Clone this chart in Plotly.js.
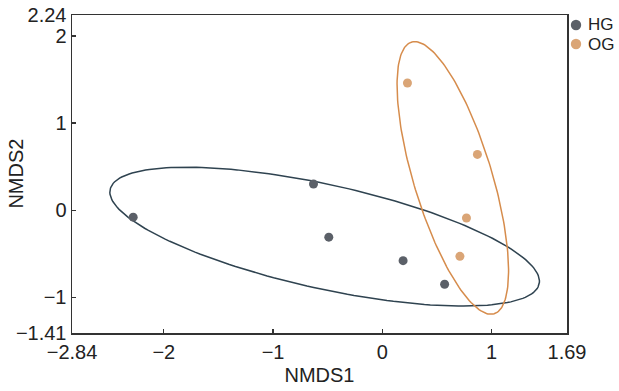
<!DOCTYPE html>
<html>
<head>
<meta charset="utf-8">
<script src="https://cdn.plot.ly/plotly-3.0.1.min.js"></script>
<style>html,body{margin:0;padding:0;background:#fff;}#chart{width:619px;height:391px;}</style>
</head>
<body>
<div id="chart"></div>
<script>
// Data
const groups = ["HG", "OG"];
const hgX = [-2.28, -0.63, -0.49, 0.19, 0.57];
const hgY = [-0.08, 0.30, -0.31, -0.58, -0.85];
const ogX = [0.23, 0.87, 0.77, 0.71];
const ogY = [1.46, 0.64, -0.09, -0.53];
const xTicks = [-2.84, -2, -1, 0, 1, 1.69];
const xTickText = ["\u22122.84", "\u22122", "\u22121", "0", "1", "1.69"];
const yTicks = [-1.41, -1, 0, 1, 2, 2.24];
const yTickText = ["\u22121.41", "\u22121", "0", "1", "2", "2.24"];
const ellipseLevel = 0.8;

const pointColors = ["#5b6068", "#daa576"];
const lineColors = ["#2f4350", "#d68c4c"];

// Confidence ellipse from the sample covariance of each group
function ellipse(xs, ys, level) {
  const n = xs.length;
  const mx = xs.reduce((a, b) => a + b, 0) / n;
  const my = ys.reduce((a, b) => a + b, 0) / n;
  let sxx = 0, syy = 0, sxy = 0;
  for (let i = 0; i < n; i++) {
    sxx += (xs[i] - mx) ** 2;
    syy += (ys[i] - my) ** 2;
    sxy += (xs[i] - mx) * (ys[i] - my);
  }
  sxx /= (n - 1); syy /= (n - 1); sxy /= (n - 1);
  const tr = sxx + syy, det = sxx * syy - sxy * sxy;
  const d = Math.sqrt(tr * tr / 4 - det);
  const l1 = tr / 2 + d, l2 = tr / 2 - d;
  const theta = Math.atan2(l1 - sxx, sxy);
  const k = Math.sqrt(-2 * Math.log(1 - level));
  const a = k * Math.sqrt(l1), b = k * Math.sqrt(l2);
  const ex = [], ey = [];
  for (let i = 0; i <= 200; i++) {
    const t = 2 * Math.PI * i / 200;
    const u = a * Math.cos(t), v = b * Math.sin(t);
    ex.push(mx + u * Math.cos(theta) - v * Math.sin(theta));
    ey.push(my + u * Math.sin(theta) + v * Math.cos(theta));
  }
  return {x: ex, y: ey};
}

const e1 = ellipse(hgX, hgY, ellipseLevel);
const e2 = ellipse(ogX, ogY, ellipseLevel);

const FONT = "Liberation Sans, Arial, sans-serif";

const traces = [
  {x: e1.x, y: e1.y, mode: "lines", line: {color: lineColors[0], width: 1.5}, showlegend: false, hoverinfo: "skip"},
  {x: e2.x, y: e2.y, mode: "lines", line: {color: lineColors[1], width: 1.5}, showlegend: false, hoverinfo: "skip"},
  {x: hgX, y: hgY, name: groups[0], mode: "markers", type: "scatter", marker: {color: pointColors[0], size: 9}},
  {x: ogX, y: ogY, name: groups[1], mode: "markers", type: "scatter", marker: {color: pointColors[1], size: 9}}
];

const axisCommon = {
  showgrid: false, zeroline: false, showline: true, mirror: true,
  linecolor: "#333333", linewidth: 1.5,
  ticks: "inside", ticklen: 4, tickwidth: 1.2, tickcolor: "#333333",
  tickfont: {family: FONT, size: 20, color: "#222222"},
  tickmode: "array", automargin: false
};

// Legend drawn as paper-positioned circles and labels (compact spacing as in the reference)
const legendYs = [0.9686, 0.9088];
const legendShapes = groups.map((g, i) => ({
  type: "circle", xref: "paper", yref: "paper",
  xsizemode: "pixel", ysizemode: "pixel",
  xanchor: 1.0182, yanchor: legendYs[i],
  x0: -5.2, x1: 5.2, y0: -5.2, y1: 5.2,
  fillcolor: pointColors[i], line: {width: 0}
}));
const legendTexts = groups.map((g, i) => ({
  text: g, xref: "paper", yref: "paper", x: 1.0385, y: legendYs[i],
  xanchor: "left", yanchor: "middle", showarrow: false,
  font: {size: 17, family: FONT, color: "#222222"}
}));

const layout = {
  width: 619, height: 391,
  margin: {l: 72, r: 52, t: 15, b: 58, autoexpand: false},
  paper_bgcolor: "#ffffff", plot_bgcolor: "#ffffff",
  font: {family: FONT, color: "#222222"},
  xaxis: Object.assign({}, axisCommon, {
    range: [-2.84, 1.69], tickvals: xTicks, ticktext: xTickText,
    title: {text: "NMDS1", font: {size: 20, family: FONT, color: "#222222"}, standoff: 6}
  }),
  yaxis: Object.assign({}, axisCommon, {
    range: [-1.41, 2.24], tickvals: yTicks, ticktext: yTickText
  }),
  annotations: [{
    text: "NMDS2", xref: "paper", yref: "paper", x: -0.114, y: 0.5,
    xanchor: "center", yanchor: "middle", textangle: -90, showarrow: false,
    font: {size: 20, family: FONT, color: "#222222"}
  }].concat(legendTexts),
  shapes: legendShapes,
  showlegend: false
};

Plotly.newPlot("chart", traces, layout, {displayModeBar: false, staticPlot: true});
</script>
</body>
</html>
